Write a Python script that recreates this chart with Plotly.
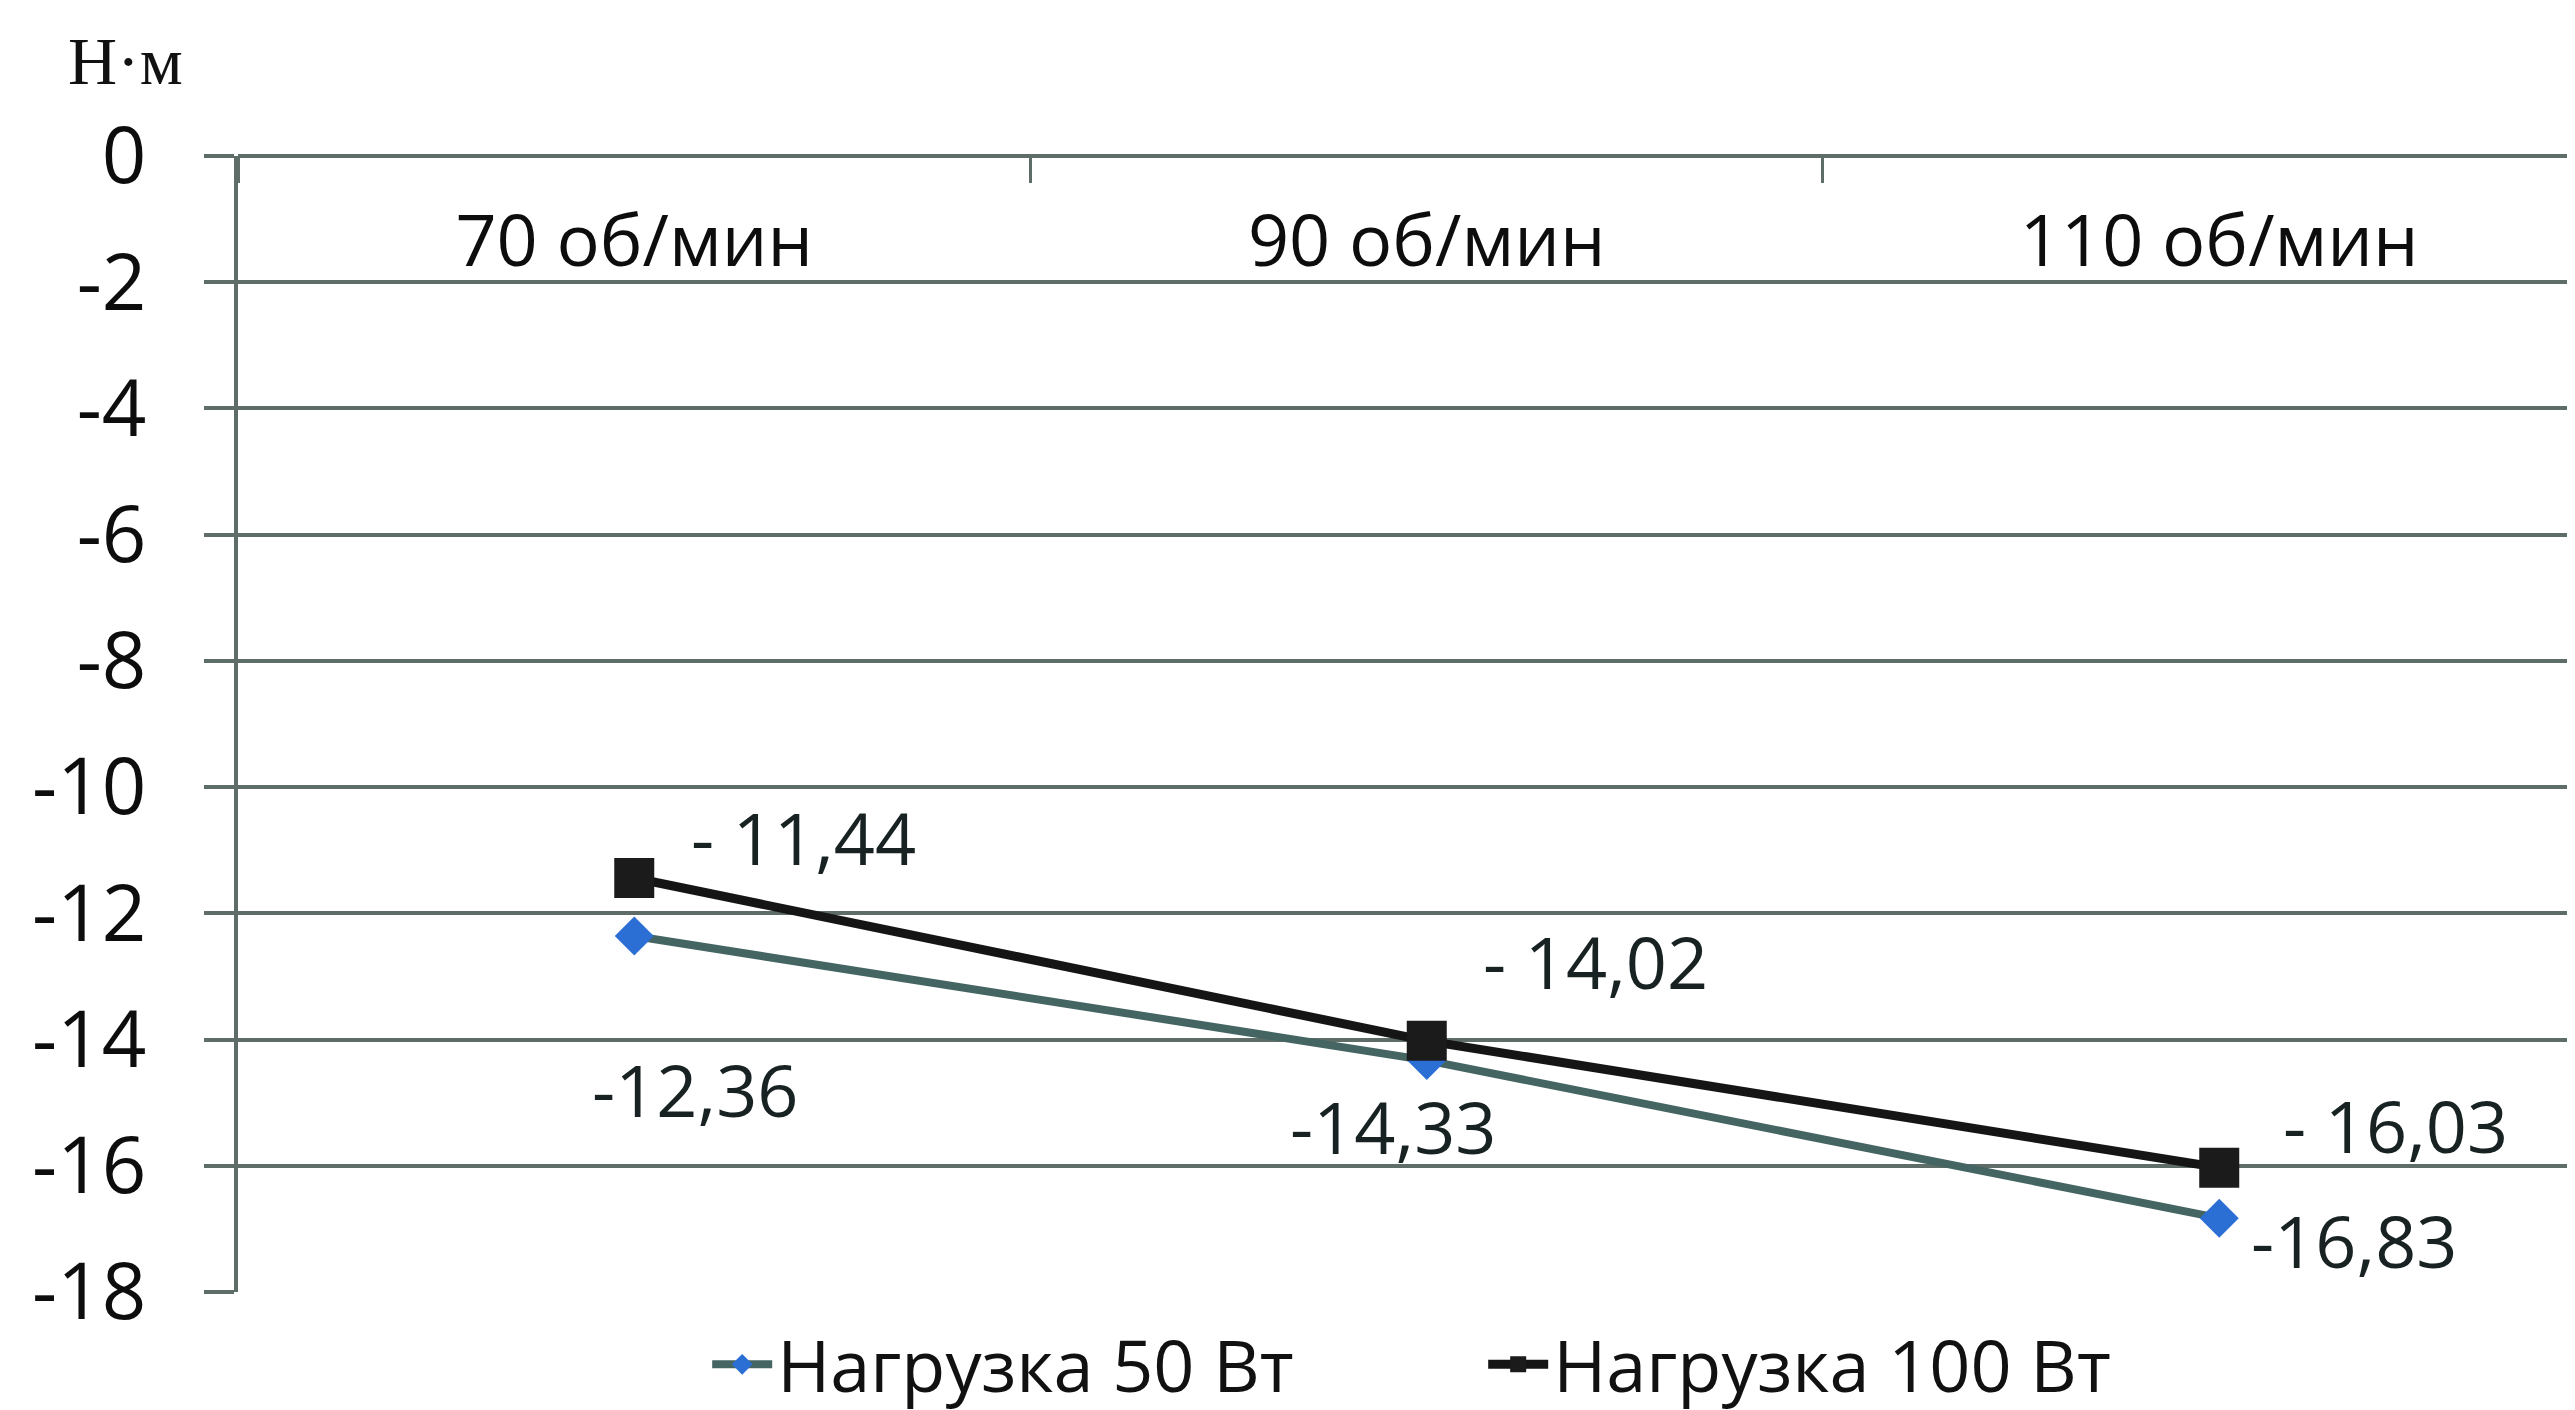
import plotly.graph_objects as go

categories = ["70 об/мин", "90 об/мин", "110 об/мин"]
load_50 = [-12.36, -14.33, -16.83]
load_100 = [-11.44, -14.02, -16.03]
series_names = ["Нагрузка 50 Вт", "Нагрузка 100 Вт"]
y_tick_vals = [0, -2, -4, -6, -8, -10, -12, -14, -16, -18]
y_tick_text = ["0", "-2", "-4", "-6", "-8", "-10", "-12", "-14", "-16", "-18"]
unit_label = "Н·м"

# label offsets in pixels (style, not data)
offs_50 = [(61, -153), (-34, -66), (135, -22)]
offs_100 = [(169, 41), (169, 80), (176, 43)]

GRID = "#5f6d69"
TXT = "#182222"
FONT = "Open Sans"

fig = go.Figure()
fig.add_trace(go.Scatter(
    x=categories, y=load_50, name=series_names[0], mode="lines+markers",
    line=dict(color="#456563", width=8),
    marker=dict(symbol="diamond", size=30, color="#2b6fd4"),
))
fig.add_trace(go.Scatter(
    x=categories, y=load_100, name=series_names[1], mode="lines+markers",
    line=dict(color="#151515", width=9),
    marker=dict(symbol="square", size=40, color="#1b1b1b"),
))

def fmt(v, spaced):
    s = f"{abs(v):.2f}".replace(".", ",")
    return ("- " if spaced else "-") + s

annotations = []
for c, v, (dx, dy) in zip(categories, load_50, offs_50):
    annotations.append(dict(x=c, y=v, xref="x", yref="y", text=fmt(v, False),
                            showarrow=False, xshift=dx, yshift=dy,
                            font=dict(family=FONT, size=72, color=TXT)))
for c, v, (dx, dy) in zip(categories, load_100, offs_100):
    annotations.append(dict(x=c, y=v, xref="x", yref="y", text=fmt(v, True),
                            showarrow=False, xshift=dx, yshift=dy,
                            font=dict(family=FONT, size=72, color=TXT)))
annotations.append(dict(x=-0.048, y=1.084, xref="paper", yref="paper", text=unit_label,
                        showarrow=False, xanchor="center", yanchor="middle",
                        font=dict(family="Liberation Serif", size=68, color="#111")))

fig.update_layout(
    width=2575, height=1410,
    margin=dict(l=230, r=0, t=148, b=113),
    paper_bgcolor="white", plot_bgcolor="white",
    showlegend=True,
    legend=dict(orientation="h", x=0.531, xanchor="center", y=-0.064, yanchor="middle",
                font=dict(family=FONT, size=72, color="#111"),
                itemwidth=60, entrywidth=701, entrywidthmode="pixels"),
    annotations=annotations,
)
fig.update_xaxes(
    type="category", categoryorder="array", categoryarray=categories,
    range=[-0.5, 2.459], anchor="free", position=1, side="bottom",
    showline=True, linecolor=GRID, linewidth=4,
    showgrid=False, zeroline=False,
    ticks="outside", tickson="boundaries", ticklen=25, tickwidth=3, tickcolor=GRID,
    ticklabelstandoff=22,
    tickfont=dict(family=FONT, size=72, color="#0d0d0d"),
)
fig.update_yaxes(
    range=[-18, 0], tickvals=y_tick_vals, ticktext=y_tick_text,
    showline=True, linecolor=GRID, linewidth=4,
    showgrid=True, gridcolor=GRID, gridwidth=4, zeroline=False,
    ticks="outside", ticklen=30, tickwidth=4, tickcolor=GRID,
    ticklabelstandoff=42,
    tickfont=dict(family=FONT, size=78, color="#0d0d0d"),
)
fig.write_html("out.html")
